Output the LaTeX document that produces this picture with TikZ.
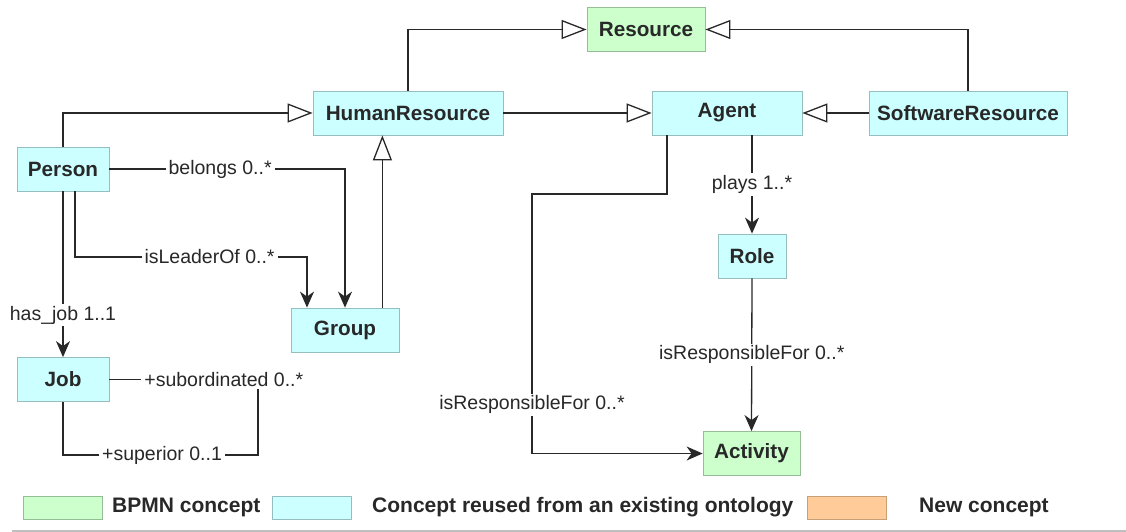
\documentclass[tikz,border=0pt]{standalone}
\usepackage{fontspec}
\setmainfont{Liberation Sans}
\usetikzlibrary{arrows.meta}

\definecolor{bpmnfill}{RGB}{204,255,204}
\definecolor{bpmnedge}{RGB}{150,190,150}
\definecolor{reusedfill}{RGB}{204,255,255}
\definecolor{reusededge}{RGB}{150,190,190}
\definecolor{newfill}{RGB}{255,204,153}
\definecolor{newedge}{RGB}{200,160,120}
\definecolor{inkcol}{RGB}{40,40,40}

\begin{document}
\begin{tikzpicture}[x=1pt,y=-1pt,
  box/.style={minimum height=44pt, inner sep=0pt, line width=0.8pt,
    font=\fontsize{20.7}{24}\selectfont\bfseries, text=inkcol},
  bpmn/.style={box, fill=bpmnfill, draw=bpmnedge},
  reused/.style={box, fill=reusedfill, draw=reusededge},
  conn/.style={line width=1.3pt, draw=inkcol},
  gen/.style={conn, -{Triangle[length=25pt,width=19pt,fill=white,line width=1.3pt]}},
  assoc/.style={conn, -{Stealth[length=16pt,width=14pt,inset=5pt]}},
  lbl/.style={fill=white, inner xsep=3pt, inner ysep=2pt,
    font=\fontsize{19.5}{22}\selectfont, text=inkcol},
  legbox/.style={minimum width=79pt, minimum height=23pt, inner sep=0pt, line width=0.8pt},
  legtext/.style={anchor=west, inner sep=0pt, font=\fontsize{21}{24}\selectfont\bfseries, text=inkcol}]

\useasboundingbox (0,0) rectangle (1126,532);

% concepts
\node[bpmn,   minimum width=118pt] (Res)      at (646,29.5)  {Resource};
\node[reused, minimum width=190pt] (HR)       at (408,113)   {HumanResource};
\node[reused, minimum width=150pt] (Agent)    at (727,113)   {Agent};
\node[reused, minimum width=198pt] (SR)       at (968,113)   {SoftwareResource};
\node[reused, minimum width=92pt]  (Person)   at (63,169)    {Person};
\node[reused, minimum width=108pt] (Group)    at (345,330)   {Group};
\node[reused, minimum width=92pt]  (Job)      at (63,379.5)  {Job};
\node[reused, minimum width=68pt]  (Role)     at (752,256)   {Role};
\node[bpmn,   minimum width=97pt]  (Activity) at (751.5,453.5) {Activity};

% generalisations
\draw[gen] (HR.north) |- (Res.west);
\draw[gen] (SR.north) |- (Res.east);
\draw[gen] (Person.north) |- (HR.west);
\draw[gen] (HR.east) -- (Agent.west);
\draw[gen] (SR.west) -- (Agent.east);
\coordinate (gup) at ([xshift=-17pt]Group.north east);
\draw[gen] (gup) -- (gup |- HR.south);

% associations
\draw[assoc] (Person.east) -| (Group.north)
  node[lbl, pos=0.235] {belongs 0..*};
\coordinate (ilS) at ([xshift=12pt]Person.south);
\coordinate (ilC) at (307,257);
\draw[assoc] (ilS) |- (ilC) node[lbl, pos=0.79] {isLeaderOf 0..*}
  -- (ilC |- Group.north);
\draw[assoc] (Person.south) -- (Job.north)
  node[lbl, pos=0.747] {has\_job 1..1};

\coordinate (jobR) at (258,380);
\coordinate (jobB) at (258,455);
\draw[conn] (Job.east) -- (Job.east -| jobR)
  node[lbl, pos=0.77] {+subordinated 0..*}
  -- (jobB) -| (Job.south)
  node[lbl, pos=0.246] {+superior 0..1};

\coordinate (arS) at ([xshift=-60pt]Agent.south);
\coordinate (arC) at (532,194);
\draw[assoc] (arS) |- (arC) |- (Activity.west)
  node[lbl, pos=0.406] {isResponsibleFor 0..*};

\draw[assoc] (Agent.south -| Role.north) -- (Role.north)
  node[lbl, midway] {plays 1..*};
\draw[assoc] (Role.south) -- (Activity.north)
  node[lbl, midway] {isResponsibleFor 0..*};

% legend
\node[legbox, fill=bpmnfill, draw=bpmnedge] (lgB) at (62.5,507.5) {};
\node[legtext] (lgBt) at (112,507.5) {BPMN concept};
\node[legbox, fill=reusedfill, draw=reusededge] (lgR) at (311.5,507.5) {};
\node[legtext] (lgRt) at (372,507.5) {Concept reused from an existing ontology};
\node[legbox, fill=newfill, draw=newedge] (lgN) at (846.5,507.5) {};
\node[legtext] (lgNt) at (919,507.5) {New concept};

\coordinate (ruleL) at (12,530.5);
\coordinate (ruleR) at (1126,530.5);
\draw[black!25, line width=2pt] (ruleL) -- (ruleR);
\end{tikzpicture}
\end{document}
